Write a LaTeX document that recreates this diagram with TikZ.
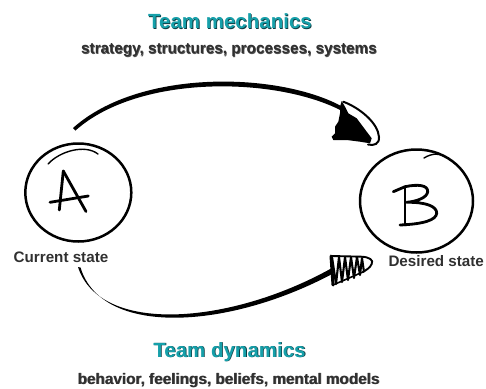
\documentclass[tikz,border=0pt]{standalone}
\usepackage{fontspec}
\setsansfont{Liberation Sans}
\usetikzlibrary{shapes.geometric}
\definecolor{tealtxt}{RGB}{22,160,170}
\definecolor{tealshadow}{RGB}{15,60,66}
\definecolor{txtgray}{RGB}{48,48,48}
\definecolor{txtshadow}{RGB}{10,10,10}
\begin{document}
\begin{tikzpicture}[x=1pt,y=-1pt,
  titletext/.style={font=\sffamily\bfseries\fontsize{20.5}{23}\selectfont, text=tealtxt, inner sep=0, anchor=base},
  titleshadow/.style={font=\sffamily\bfseries\fontsize{20.5}{23}\selectfont, text=tealshadow, inner sep=0, anchor=base},
  subtext/.style={font=\sffamily\bfseries\fontsize{15.3}{17}\selectfont, text=txtgray, inner sep=0, anchor=base},
  subshadow/.style={font=\sffamily\bfseries\fontsize{15.3}{17}\selectfont, text=txtshadow!70, inner sep=0, anchor=base},
  statetext/.style={font=\sffamily\bfseries\fontsize{15.2}{17}\selectfont, text=txtgray, inner sep=0, anchor=base west},
  statecircle/.style={draw=black, line width=2.5pt, ellipse, inner sep=0},
  pen/.style={draw=black, line width=2.8pt, line cap=round, line join=round},
  thinpen/.style={draw=black, line width=1.4pt, line cap=round},
]
\useasboundingbox (0,0) rectangle (486,388);

% titles
\node[titleshadow] (tmS) at (230.8,29.3) {Team mechanics};
\node[titletext] (tm) at (230,28.5) {Team mechanics};
\node[subshadow] (smS) at (229.7,54.1) {strategy, structures, processes, systems};
\node[subtext] (sm) at (229,53.5) {strategy, structures, processes, systems};
\node[titleshadow] (tdS) at (230.3,357.8) {Team dynamics};
\node[titletext] (td) at (229.5,357) {Team dynamics};
\node[subshadow] (sdS) at (229.2,384.9) {behavior, feelings, beliefs, mental models};
\node[subtext] (sd) at (228.5,384.3) {behavior, feelings, beliefs, mental models};

% state circles
\node[statecircle, minimum width=106pt, minimum height=98pt] (A) at (78.3,192.5) {};
\node[statecircle, minimum width=113pt, minimum height=103pt] (B) at (416.5,201) {};
\draw[thinpen] (48,164) .. controls (60,151) and (85,144) .. (98,154);
\draw[thinpen] (424,158) .. controls (432,153) and (440,153) .. (446,157);

% letter A
\draw[pen] (63.3,171) -- (59.3,210);
\draw[pen] (63.3,171) -- (86,211.5);
\draw[pen] (50,202.3) -- (88.3,196);
% letter B
\draw[pen] (405,186.7) -- (405,225);
\draw[pen] (393.3,191.7) -- (405,186.7) .. controls (418,184) and (428,185) .. (427.7,191.7)
  .. controls (427,198) and (416,201.5) .. (406.7,202.3)
  .. controls (425,202) and (437,206) .. (436.7,213.3)
  .. controls (436,220) and (424,224) .. (400,225);

\node[statetext] (cs) at (13.5,262) {Current state};
\node[statetext] (ds) at (388.3,266) {Desired state};

% top connector (team mechanics)
\coordinate (t1) at (73,128);
\coordinate (t2) at (343,107);
\fill[black] (t1) .. controls (140,68) and (280,72) .. (t2)
  -- (344,112) .. controls (280,77) and (140,73) .. (75.5,130.5) -- cycle;
\fill[black] (341.7,101) -- (345,106.7) -- (348.3,113.3) -- (356.7,118.3) -- (361.7,125)
  -- (366.7,131.7) -- (371.7,138.3) -- (370,143.3) -- (360,141.7) -- (346.7,140)
  -- (333.3,140) -- (331.7,136.7) -- (335,133.3) -- (335,126.7) -- (338.3,121.7)
  -- (340,113.3) -- (340,106.7) -- cycle;
\draw[black, line width=2pt, line cap=round] (343.3,101.7) .. controls (360,108) and (378,123) .. (379,137)
  .. controls (379.5,144) and (374,146) .. (368,144.5);

% bottom connector (team dynamics)
\coordinate (b1) at (78,267);
\coordinate (b2) at (332,268);
\fill[black] (b1) .. controls (100,335) and (230,325) .. (b2)
  -- (334,273) .. controls (230,329) and (102,338) .. (80.5,267.5) -- cycle;
\draw[black, line width=1.9pt, line cap=round, line join=round]
  (331.7,256) -- (361.7,256.7) .. controls (369,257) and (374,260) .. (371.7,264)
  .. controls (370,268) and (366,270) .. (363,272);
\draw[black, line width=3pt, line cap=round] (331,256) -- (333,285);
\draw[black, line width=2.1pt, line join=round]
  (332,257) -- (336,284) -- (339,257) -- (342,282) -- (345,257) -- (348,280)
  -- (351,257) -- (354,278) -- (357,257) -- (360,275) -- (362,258) -- (364,272);
\draw[black, line width=1.6pt] (333,285) -- (364,271.5);
\end{tikzpicture}
\end{document}
